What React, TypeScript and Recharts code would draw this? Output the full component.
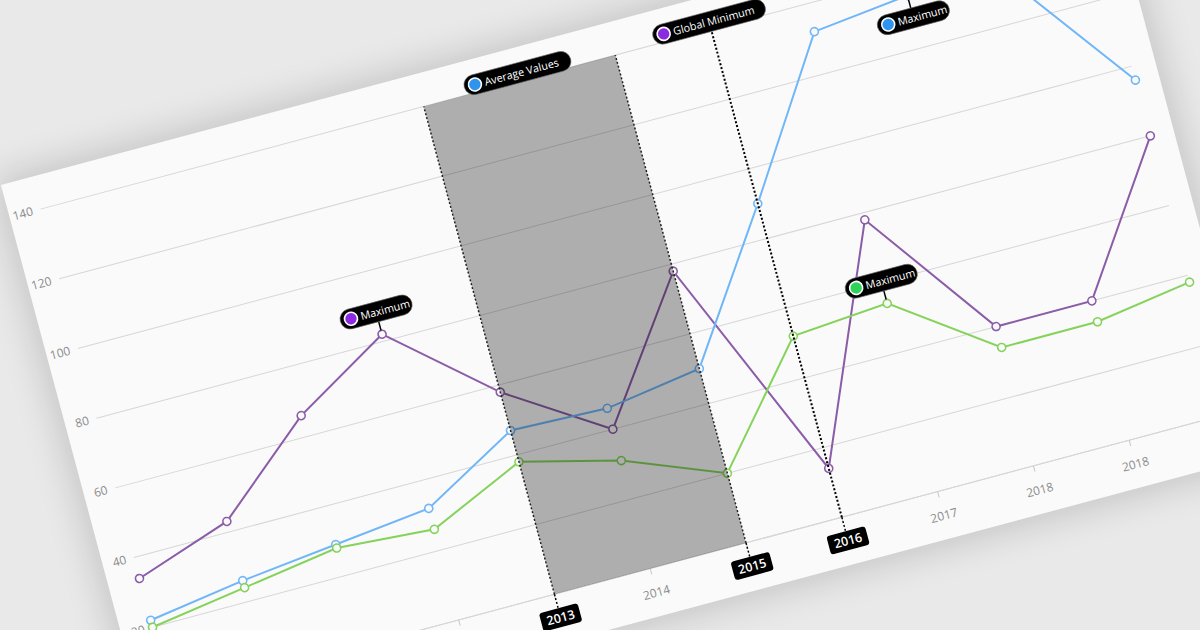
import { LineChart, Line, XAxis, YAxis, CartesianGrid, ReferenceArea, ReferenceLine, ReferenceDot } from 'recharts';

// categories (one point per entry) and what the axis prints under each one
const years = ['2009', '2010', '2011', '2012', '2013', '2014', '2015', '2016', '2017', '2018', '2018', '2019'];
const purpleValues = [34, 43, 66, 82, 58, 40, 78, 14, 78, 40, 40, 80];
const blueValues = [22, 26, 29, 32, 47, 46, 50, 90, 132, 135, 133, 96];
const greenValues = [20, 24, 28, 26, 38, 31, 20, 52, 54, 34, 34, 38];
const yTicks = [0, 20, 40, 60, 80, 100, 120, 140];

// annotation positions (category index)
const bandStart = 4;
const bandMiddle = 5;
const bandEnd = 6;
const minimumAt = 7;
const purpleMaxAt = 3;
const blueMaxAt = 9;
const greenMaxAt = 8;

const data = years.map((year, i) => ({
  i,
  year,
  purple: purpleValues[i],
  blue: blueValues[i],
  green: greenValues[i],
}));

const FONT = '"Open Sans", "Noto Sans", sans-serif';

type PillProps = { cx?: number; cy?: number; text: string; dot: string; w: number; below?: boolean; top?: boolean };

function Pill({ cx = 0, cy = 0, text, dot, w, below, top }: PillProps) {
  const h = 20;
  let py: number;
  if (top) py = cy - 18;
  else if (below) py = cy + 13;
  else py = cy - 13 - h;
  const left = cx - w / 2;
  return (
    <g>
      {!top && (
        <line x1={cx} x2={cx} y1={below ? cy + 4 : cy - 4} y2={below ? py : py + h} stroke="#000" strokeWidth={1.5} />
      )}
      <rect x={left} y={py} width={w} height={h} rx={10} fill="#000" stroke="#666" strokeWidth={0.6} />
      <circle cx={left + 11} cy={py + h / 2} r={6.5} fill={dot} stroke="#fff" strokeWidth={1.6} />
      <text x={left + 21} y={py + h / 2 + 4} fill="#fff" fontSize={10.8} fontFamily={FONT}>
        {text}
      </text>
    </g>
  );
}

function Badge({ cx = 0, cy = 0, text }: { cx?: number; cy?: number; text: string }) {
  const w = 40;
  const h = 19;
  const by = cy + 14.5;
  return (
    <g>
      <line x1={cx} x2={cx} y1={cy} y2={by} stroke="#000" strokeWidth={1.5} strokeDasharray="2 2" />
      <rect x={cx - w / 2} y={by} width={w} height={h} rx={3} fill="#000" />
      <text x={cx} y={by + 14} textAnchor="middle" fill="#fff" fontSize={12.5} fontWeight={600} fontFamily={FONT}>
        {text}
      </text>
    </g>
  );
}

function YTick({ x, y, payload }: any) {
  return (
    <text x={x} y={y} dy={4} textAnchor="end" fill="#8a8a8a" fontSize={12} fontFamily={FONT}>
      {payload.value}
    </text>
  );
}

function XTick({ x, y, payload }: any) {
  return (
    <text x={x} y={y} dy={17} textAnchor="middle" fill="#8a8a8a" fontSize={12} fontFamily={FONT}>
      {years[payload.value]}
    </text>
  );
}

export default function App() {
  return (
    <div style={{ position: 'fixed', left: 0, top: 0, width: 1200, height: 630, overflow: 'hidden', background: '#e9e9e9' }}>
      <div style={{ position: 'absolute', left: 0, top: 0, transform: 'rotate(-15deg)', transformOrigin: '0 0' }}>
        <div
          style={{
            position: 'absolute',
            left: -47,
            top: 178.5,
            width: 1147,
            height: 587,
            background: '#fafafa',
            boxShadow: '0 0 36px 6px rgba(0,0,0,0.16)',
          }}
        >
          <LineChart width={1147} height={587} data={data} margin={{ top: 33.5, right: 24, left: 0, bottom: 18.5 }}>
            <CartesianGrid vertical={false} stroke="#d6d6d6" strokeWidth={1} />
            <XAxis
              dataKey="i"
              type="category"
              interval={0}
              height={30}
              tick={<XTick />}
              tickSize={6}
              tickMargin={6}
              tickLine={{ stroke: '#c8c8c8' }}
              axisLine={{ stroke: '#d6d6d6' }}
            />
            <YAxis
              domain={[0, 140]}
              ticks={yTicks}
              interval={0}
              width={32}
              axisLine={false}
              tickLine={false}
              tick={<YTick />}
            />
            <Line
              dataKey="purple"
              stroke="#8b5ca8"
              strokeWidth={2}
              dot={{ r: 4, fill: '#fafafa', stroke: '#8b5ca8', strokeWidth: 1.6 }}
              isAnimationActive={false}
            />
            <Line
              dataKey="blue"
              stroke="#70b6f8"
              strokeWidth={2}
              dot={{ r: 4, fill: '#fafafa', stroke: '#70b6f8', strokeWidth: 1.6 }}
              isAnimationActive={false}
            />
            <Line
              dataKey="green"
              stroke="#86d35c"
              strokeWidth={2}
              dot={{ r: 4, fill: '#fafafa', stroke: '#86d35c', strokeWidth: 1.6 }}
              isAnimationActive={false}
            />
            <ReferenceArea x1={bandStart} x2={bandEnd} y1={0} y2={140} fill="#000" fillOpacity={0.3} stroke="none" zIndex={700} />
            <ReferenceLine x={bandStart} stroke="#222" strokeWidth={1.5} strokeDasharray="2 2" zIndex={710} />
            <ReferenceLine x={bandEnd} stroke="#222" strokeWidth={1.5} strokeDasharray="2 2" zIndex={710} />
            <ReferenceLine x={minimumAt} stroke="#000" strokeWidth={2} strokeDasharray="2 2" zIndex={710} />
            <ReferenceDot x={bandStart} y={0} r={0} zIndex={2100} shape={(p: any) => <Badge cx={p.cx} cy={p.cy} text={years[bandStart]} />} />
            <ReferenceDot x={bandEnd} y={0} r={0} zIndex={2100} shape={(p: any) => <Badge cx={p.cx} cy={p.cy} text={years[bandEnd]} />} />
            <ReferenceDot x={minimumAt} y={0} r={0} zIndex={2100} shape={(p: any) => <Badge cx={p.cx} cy={p.cy} text={years[minimumAt]} />} />
            <ReferenceDot
              x={bandMiddle}
              y={140}
              r={0}
              zIndex={2100}
              shape={(p: any) => <Pill cx={p.cx} cy={p.cy} top text="Average Values" dot="#2f94ee" w={110} />}
            />
            <ReferenceDot
              x={minimumAt}
              y={140}
              r={0}
              zIndex={2100}
              shape={(p: any) => <Pill cx={p.cx} cy={p.cy} top text="Global Minimum" dot="#8a2be2" w={116} />}
            />
            <ReferenceDot
              x={purpleMaxAt}
              y={purpleValues[purpleMaxAt]}
              r={0}
              zIndex={2100}
              shape={(p: any) => <Pill cx={p.cx} cy={p.cy} text="Maximum" dot="#8a2be2" w={74} />}
            />
            <ReferenceDot
              x={blueMaxAt}
              y={blueValues[blueMaxAt]}
              r={0}
              zIndex={2100}
              shape={(p: any) => <Pill cx={p.cx} cy={p.cy} below text="Maximum" dot="#2f94ee" w={74} />}
            />
            <ReferenceDot
              x={greenMaxAt}
              y={greenValues[greenMaxAt]}
              r={0}
              zIndex={2100}
              shape={(p: any) => <Pill cx={p.cx} cy={p.cy} text="Maximum" dot="#2fd35a" w={74} />}
            />
          </LineChart>
        </div>
      </div>
    </div>
  );
}
